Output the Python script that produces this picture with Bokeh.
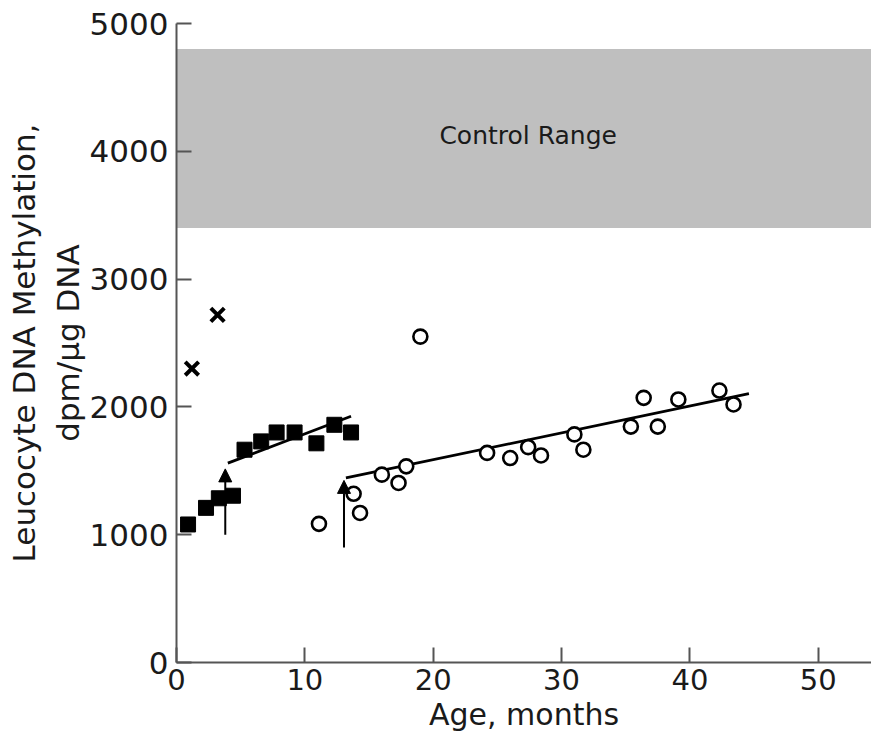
from bokeh.plotting import figure
from bokeh.models import (Range1d, BoxAnnotation, Label, Arrow, NormalHead,
                          ColumnDataSource, FixedTicker)
from bokeh.embed import file_html
from bokeh.resources import INLINE

# ---- data ----
cross_x = [1.2, 3.2]
cross_y = [2300, 2720]

square_x = [0.9, 2.3, 3.3, 4.4, 5.3, 6.6, 7.8, 9.2, 10.9, 12.3, 13.6]
square_y = [1080, 1210, 1285, 1305, 1665, 1730, 1800, 1800, 1715, 1860, 1800]

circle_x = [11.1, 13.8, 14.3, 16.0, 17.3, 17.9, 19.0, 24.2, 26.0, 27.4, 28.4,
            31.0, 31.7, 35.4, 36.4, 37.5, 39.1, 42.3, 43.4]
circle_y = [1085, 1320, 1170, 1470, 1405, 1535, 2550, 1640, 1600, 1685, 1620,
            1785, 1665, 1846, 2071, 1846, 2058, 2128, 2019]

square_fit_x = [4.0, 13.6]
square_fit_y = [1560, 1927]
circle_fit_x = [13.2, 44.6]
circle_fit_y = [1444, 2103]

arrow_x = [3.8, 13.05]
arrow_y_start = [1000, 900]
arrow_y_end = [1515, 1425]

control_low = 3400
control_high = 4800
control_label = "Control Range"

x_ticks = [0, 10, 20, 30, 40, 50]
y_ticks = [0, 1000, 2000, 3000, 4000, 5000]

FONT = "DejaVu Sans"
TXT = "#1a1a1a"

p = figure(width=871, height=743, output_backend="svg", toolbar_location=None,
           x_range=Range1d(0, 54.15), y_range=Range1d(0, 5000),
           min_border_left=176, min_border_right=0, min_border_top=23,
           min_border_bottom=81)
p.outline_line_color = None
p.grid.visible = False

# control band
p.add_layout(BoxAnnotation(bottom=control_low, top=control_high,
                           fill_color="#bfbfbf", fill_alpha=1.0,
                           line_color=None, level="underlay"))
p.add_layout(Label(x=27.4, y=4120, text=control_label, text_align="center",
                   text_baseline="middle", text_font=FONT,
                   text_font_size="25px", text_color=TXT))

# fit lines
p.line(square_fit_x, square_fit_y, line_color="black", line_width=2.8)
p.line(circle_fit_x, circle_fit_y, line_color="black", line_width=2.8)

# arrows
asrc = ColumnDataSource(dict(x=arrow_x, y0=arrow_y_start, y1=arrow_y_end))
p.add_layout(Arrow(x_start="x", y_start="y0", x_end="x", y_end="y1",
                   source=asrc, line_color="black", line_width=2,
                   end=NormalHead(size=13, fill_color="black",
                                  line_color="black", line_width=1)))

# markers
p.scatter(square_x, square_y, marker="square", size=15,
          fill_color="black", line_color="black")
p.scatter(circle_x, circle_y, marker="circle", size=14,
          fill_color="white", line_color="black", line_width=2.6)
p.scatter(cross_x, cross_y, marker="x", size=19,
          line_color="black", line_width=4)

# axes
for ax in (p.xaxis[0], p.yaxis[0]):
    ax.axis_line_color = "#555555"
    ax.axis_line_width = 2
    ax.major_tick_line_color = "#555555"
    ax.major_tick_line_width = 2
    ax.major_tick_in = 15
    ax.major_tick_out = 0
    ax.minor_tick_line_color = None
    ax.major_label_text_font = FONT
    ax.major_label_text_color = TXT
    ax.axis_label_text_font = FONT
    ax.axis_label_text_color = TXT
    ax.axis_label_text_font_style = "normal"

p.xaxis.ticker = FixedTicker(ticks=x_ticks)
p.yaxis.ticker = FixedTicker(ticks=y_ticks)
p.xaxis.major_label_text_font_size = "29px"
p.yaxis.major_label_text_font_size = "31px"
p.xaxis.major_label_standoff = 6
p.yaxis.major_label_standoff = 8
p.xaxis.axis_label = "Age, months"
p.xaxis.axis_label_text_font_size = "30px"
p.xaxis.axis_label_standoff = 4
p.yaxis.axis_label = "Leucocyte DNA Methylation,\ndpm/\u00b5g DNA"
p.yaxis.axis_label_text_font_size = "31px"
p.yaxis.axis_label_standoff = 1

open("out.html", "w").write(file_html(p, INLINE))
